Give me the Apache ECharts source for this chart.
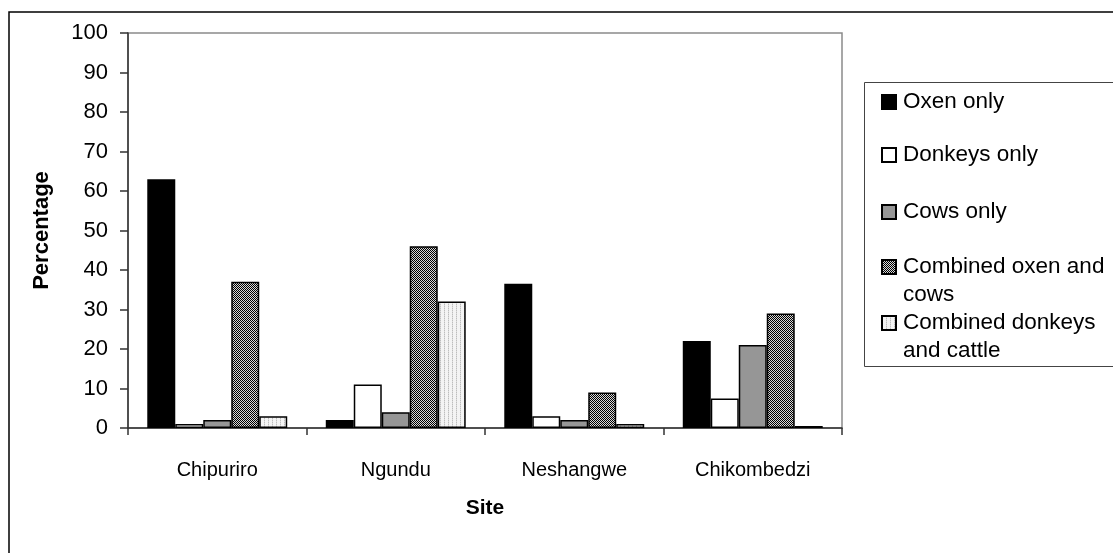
<!DOCTYPE html>
<html>
<head>
<meta charset="utf-8">
<script src="https://cdn.jsdelivr.net/npm/echarts@6/dist/echarts.min.js"></script>
<style>
  html, body { margin: 0; padding: 0; background: #fff; }
  #chart { width: 1113px; height: 553px; }
</style>
</head>
<body>
<div id="chart"></div>
<script>
// Draught animal use by site (% of households)
const sites = ['Chipuriro', 'Ngundu', 'Neshangwe', 'Chikombedzi'];
const seriesNames = ['Oxen only', 'Donkeys only', 'Cows only', 'Combined oxen and cows', 'Combined donkeys and cattle'];
const oxenOnly = [63, 2, 36.5, 22];
const donkeysOnly = [1, 11, 3, 7.5];
const cowsOnly = [2, 4, 2, 21];
const oxenAndCows = [37, 46, 9, 29];
const donkeysAndCattle = [3, 32, 1, 0.5];
const yTicks = [0, 10, 20, 30, 40, 50, 60, 70, 80, 90, 100];

const FONT = '"Liberation Sans", Arial, sans-serif';

// Fill patterns for the two combined categories
function makePattern(w, h, draw) {
  const c = document.createElement('canvas');
  c.width = w; c.height = h;
  draw(c.getContext('2d'));
  return { image: c, repeat: 'repeat' };
}
const checkerFill = makePattern(2, 2, ctx => {
  ctx.fillStyle = '#d8d8d8'; ctx.fillRect(0, 0, 2, 2);
  ctx.fillStyle = '#000000';
  ctx.fillRect(0, 0, 1, 1); ctx.fillRect(1, 1, 1, 1);
});
const stripeFill = makePattern(4, 2, ctx => {
  ctx.fillStyle = '#f4f4f4'; ctx.fillRect(0, 0, 4, 2);
  ctx.fillStyle = '#bdbdbd'; ctx.fillRect(0, 0, 1, 1);
  ctx.fillStyle = '#dcdcdc'; ctx.fillRect(0, 1, 1, 1);
});

const fills = ['#000000', '#ffffff', '#969696', checkerFill, stripeFill];
const values = [oxenOnly, donkeysOnly, cowsOnly, oxenAndCows, donkeysAndCattle];

// legend entries: label text and vertical centre of the first line
const legendLabels = ['Oxen only', 'Donkeys only', 'Cows only', '\nCombined oxen and\ncows', '\nCombined donkeys\nand cattle'];
const legendCentres = [102, 155, 212, 267, 323];
const LINE_H = 28;

const chart = echarts.init(document.getElementById('chart'), null, { renderer: 'canvas' });

const legends = seriesNames.map((name, i) => {
  const lines = legendLabels[i].split('\n').length;
  return {
    data: [name],
    orient: 'vertical',
    left: 881,
    top: legendCentres[i] - (lines * LINE_H) / 2,
    padding: 0,
    icon: 'rect',
    itemWidth: 14,
    itemHeight: 14,
    itemGap: 0,
    selectedMode: false,
    formatter: () => legendLabels[i],
    textStyle: { fontFamily: FONT, fontSize: 22.5, color: '#000', lineHeight: LINE_H, padding: [0, 0, 0, 2] }
  };
});

chart.setOption({
  animation: false,
  backgroundColor: '#fff',
  grid: {
    left: 128, top: 33, right: 271, bottom: 125,
    show: true, borderColor: '#8a8a8a', borderWidth: 1.5
  },
  legend: legends,
  xAxis: {
    type: 'category',
    data: sites,
    name: 'Site',
    nameLocation: 'middle',
    nameGap: 70,
    nameTextStyle: { fontFamily: FONT, fontSize: 21, fontWeight: 'bold', color: '#000' },
    axisLine: { lineStyle: { color: '#333', width: 1.5 } },
    axisTick: { show: true, length: 7, lineStyle: { color: '#333', width: 1.5 } },
    axisLabel: { fontFamily: FONT, fontSize: 20, color: '#000', margin: 32 }
  },
  yAxis: {
    type: 'value',
    min: 0, max: 100, interval: 10,
    name: 'Percentage',
    nameLocation: 'middle',
    nameGap: 75,
    nameTextStyle: { fontFamily: FONT, fontSize: 22, fontWeight: 'bold', color: '#000' },
    axisLine: { show: true, lineStyle: { color: '#333', width: 1.5 } },
    axisTick: { show: true, length: 8, lineStyle: { color: '#333', width: 1.5 } },
    splitLine: { show: false },
    axisLabel: {
      fontFamily: FONT, fontSize: 22, color: '#000', margin: 20,
      formatter: v => (yTicks.indexOf(v) >= 0 ? String(v) : '')
    }
  },
  series: seriesNames.map((name, i) => ({
    name,
    type: 'bar',
    data: values[i],
    barGap: '0%',
    barCategoryGap: '21.6%',
    itemStyle: { color: fills[i], borderColor: '#000', borderWidth: 1.5 },
    emphasis: { disabled: true }
  })),
  graphic: [
    {
      type: 'rect', silent: true, z: -1,
      shape: { x: 9, y: 12, width: 1130, height: 560 },
      style: { fill: null, stroke: '#000', lineWidth: 1.5 }
    },
    {
      type: 'rect', silent: true, z: -1,
      shape: { x: 864.5, y: 82.5, width: 260, height: 284 },
      style: { fill: '#fff', stroke: '#444', lineWidth: 1 }
    }
  ]
});
</script>
</body>
</html>
